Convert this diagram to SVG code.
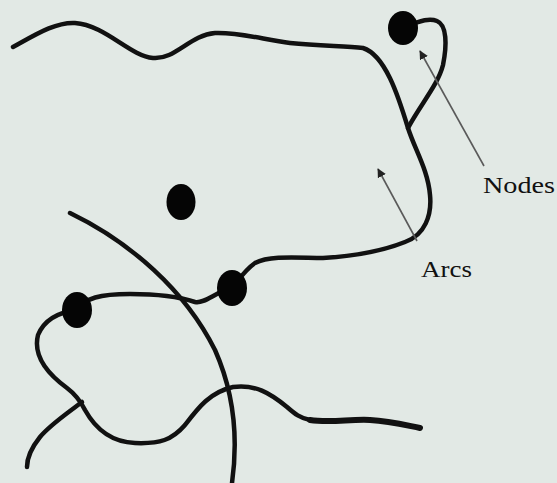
<svg xmlns="http://www.w3.org/2000/svg" width="557" height="483" viewBox="0 0 557 483">
<defs>
<style>
.arc{fill:none;stroke:#111;stroke-width:4.5;stroke-linecap:round;stroke-linejoin:round}
.tail{stroke-width:6}
.node{fill:#050505}
.ptr{fill:none;stroke:#5a5a5a;stroke-width:1.6}
.lbl{font-family:"Liberation Serif","Times New Roman",serif;font-size:24px;fill:#111}
</style>
<marker id="ah" viewBox="0 0 10 10" refX="9" refY="5" markerWidth="9" markerHeight="9" markerUnits="userSpaceOnUse" orient="auto">
<path d="M0,0 L10,5 L0,10 z" fill="#222"/>
</marker>
</defs>
<rect width="557" height="483" fill="#e2e9e5"/>
<g id="connectors">
<path class="arc" d="M13,47 C35,35 55,22 75,23 C105,25 130,56 153,58 C175,60 190,35 215,33 C240,32 265,40 290,43 C320,46 345,46 363,48 C385,55 398,95 408,128 C415,150 428,170 430,195 C432,215 425,235 405,242 C385,250 355,256 323,258 C300,258 270,255 255,263 C245,270 240,278 232,288"/>
<path class="arc" d="M408,128 C420,105 438,85 443,65 C447,45 447,25 437,21 C430,18 422,20 404,27"/>
<path class="arc" d="M70,213 C130,242 185,290 215,350 C235,395 238,440 232,483"/>
<path class="arc" d="M77,310 C85,298 100,294 130,294 C160,294 180,297 195,302 C205,304 215,292 232,288"/>
<path class="arc" d="M77,310 C60,312 45,318 38,335 C33,355 45,372 67,388 C75,394 80,400 85,410 C95,428 110,442 135,443 C160,444 172,440 185,425 C198,408 210,392 233,387 C255,384 270,393 287,407 C295,414 300,418 310,420"/>
<path class="arc tail" d="M310,420 C330,423 350,419 370,420 C390,421 405,425 420,428"/>
<path class="arc" d="M82,402 C65,415 50,425 40,437 C32,447 27,457 27,467"/>
</g>
<g id="node-top"><ellipse class="node" cx="403" cy="28" rx="15" ry="17"/></g>
<g id="node-lone"><ellipse class="node" cx="181" cy="202" rx="14.5" ry="18"/></g>
<g id="node-mid"><ellipse class="node" cx="232" cy="288" rx="15" ry="18"/></g>
<g id="node-left"><ellipse class="node" cx="77" cy="310" rx="15" ry="18"/></g>
<g id="label-nodes">
<line class="ptr" x1="484" y1="166" x2="420" y2="51" marker-end="url(#ah)"/>
<text class="lbl" x="483" y="193" textLength="72" lengthAdjust="spacingAndGlyphs">Nodes</text>
</g>
<g id="label-arcs">
<line class="ptr" x1="417" y1="241" x2="378" y2="169" marker-end="url(#ah)"/>
<text class="lbl" x="421" y="277" textLength="51" lengthAdjust="spacingAndGlyphs">Arcs</text>
</g>
</svg>
